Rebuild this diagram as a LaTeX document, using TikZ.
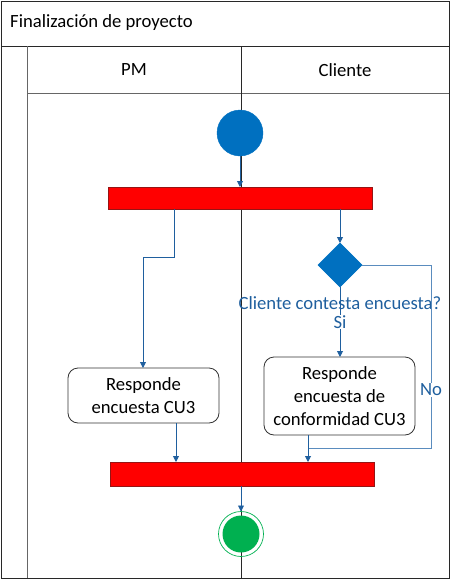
\documentclass[tikz,border=0pt]{standalone}
\usepackage{fontspec}
\setmainfont{Carlito}
\usetikzlibrary{shapes.geometric,arrows.meta}
\definecolor{ublue}{RGB}{0,112,192}
\definecolor{lineblue}{RGB}{31,95,158}
\definecolor{loopblue}{RGB}{90,140,190}
\definecolor{ugreen}{RGB}{0,176,80}
\definecolor{darkred}{RGB}{150,20,20}
\definecolor{frame}{RGB}{40,40,40}
\begin{document}
\begin{tikzpicture}[x=1pt,y=-1pt,
  lane/.style={draw=frame,line width=0.9pt},
  flow/.style={draw=lineblue,line width=0.9pt,-{Triangle[length=6pt,width=6pt]}},
  bar/.style={draw=darkred,fill=red,minimum width=264pt,inner sep=0pt,outer sep=0pt},
  actbox/.style={draw=black!80,rounded corners=10pt,line width=0.8pt,fill=white,minimum width=151pt,inner sep=0pt,outer sep=0pt,align=center,font=\fontsize{18.67}{23}\selectfont},
  lbl/.style={text=lineblue,font=\fontsize{18.67}{22}\selectfont,inner sep=1pt},
  hdr/.style={font=\fontsize{18.67}{22}\selectfont}
]
\useasboundingbox (0,0) rectangle (452,581);
% frame
\draw[lane] (1,1) rectangle (449,578);
\draw[lane] (1,46) -- (449,46);
\draw[draw=gray!80!black,line width=0.9pt] (27,46) -- (27,578);
\draw[draw=gray!80!black,line width=0.9pt] (27,93) -- (449,93);
\draw[lane] (241,46) -- (241,578);
\node[hdr,anchor=west,inner sep=0pt] (title) at (10,23) {Finalización de proyecto};
\node[hdr] (pm) at (134,70) {PM};
\node[hdr] (cli) at (345,70) {Cliente};
% nodes
\node[circle,fill=ublue,draw=ublue,minimum size=46pt,inner sep=0pt,outer sep=0pt] (start) at (240,133) {};
\node[bar,minimum height=22pt] (fork1) at (240,198) {};
\node[diamond,fill=ublue,draw=ublue,minimum width=44pt,minimum height=44pt,inner sep=0pt,outer sep=0pt] (dec) at (340,265) {};
\node[actbox,minimum height=55pt] (resp1) at (143.5,395.5) {Responde\\encuesta CU3};
\node[actbox,minimum height=78pt] (resp2) at (339.5,396) {Responde\\encuesta de\\conformidad CU3};
\node[bar,minimum height=24pt] (fork2) at (242,474) {};
\node[circle,draw=ugreen,line width=0.7pt,minimum size=45pt,inner sep=0pt,outer sep=0pt] (endo) at (241,534) {};
\node[circle,fill=ugreen,minimum size=37pt,inner sep=0pt] (endi) at (241,534) {};
% coordinates
\coordinate (f1a) at (174,209);
\coordinate (f1b) at (340,209);
\coordinate (la) at (174,257);
\coordinate (lb) at (143,257);
\coordinate (r1) at (431,265);
\coordinate (r2) at (431,448);
\coordinate (r3) at (308,448);
\coordinate (f2a) at (176,462);
\coordinate (f2b) at (308,462);
\coordinate (b1) at (176,423);
\coordinate (b2) at (308,435);
\coordinate (f2c) at (241,486);
% connectors
\draw[flow] (start.south) -- (fork1.north);
\draw[flow] (f1b) -- (dec.north);
\draw[flow] (f1a) -- (la) -- (lb) -- (resp1.north -| lb);
\draw[draw=lineblue,line width=0.9pt] (dec.south) -- (340,331);
\node[lbl] (q) at (340,303) {Cliente contesta encuesta?};
\node[lbl,fill=white] (si) at (340,322) {Si};
\draw[flow] (si.south) -- (resp2.north -| si.south);
\draw[draw=loopblue,line width=0.9pt] (dec.east) -- (r1) -- (r2) -- (r3);
\node[lbl,fill=white] (no) at (431,390) {No};
\draw[flow] (b1) -- (f2a);
\draw[flow] (b2) -- (f2b);
\draw[flow] (f2c) -- (endo.north);
\end{tikzpicture}
\end{document}
